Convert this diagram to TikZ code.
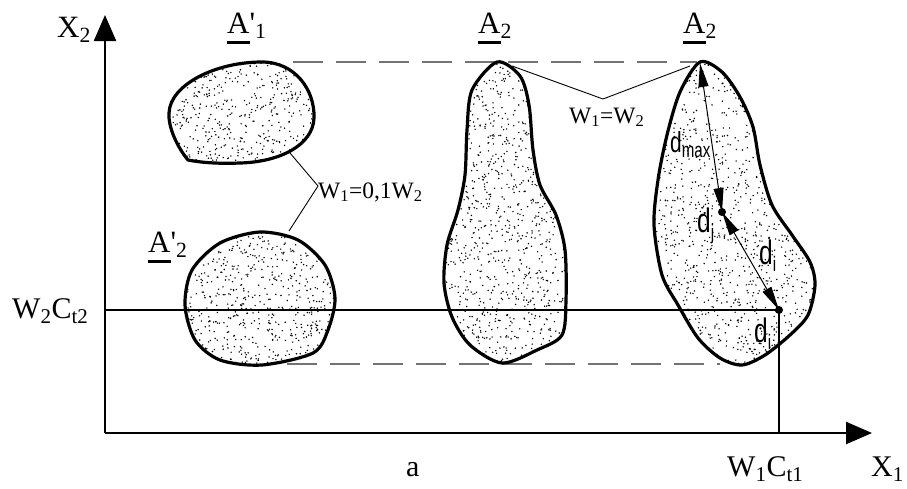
\documentclass[tikz,border=0pt]{standalone}
\usepackage{fontspec}
\usepackage{graphicx}
\setmainfont{Liberation Serif}
\newfontfamily\dfont{Liberation Sans}
\usetikzlibrary{arrows.meta}
\newcommand\ulA[1]{\setbox0\hbox{#1}\rlap{\rule[-11pt]{\wd0}{3pt}}\box0}
\newcommand\stippledblob[6]{%
  \begin{scope}
    \clip #1;
    \foreach \k in {1,...,#6}{%
      \pgfmathsetmacro\rx{#2+rnd*#4}%
      \pgfmathsetmacro\ry{#3+rnd*#5}%
      \fill (\rx,\ry) circle[radius=0.8];}
  \end{scope}
  \draw[blob] #1;
}
\newcommand\dlab[2]{\scalebox{0.72}[1]{\dfont\fontsize{34}{34}\selectfont d\raisebox{-7pt}{\fontsize{21}{21}\selectfont #2}}}
\begin{document}
\begin{tikzpicture}[x=1pt,y=-1pt,
  blob/.style={line width=3.2pt, line join=round},
  axis/.style={line width=2.4pt, -{Triangle[length=26pt,width=22pt]}},
  guide/.style={line width=1.3pt, draw=black!55, dash pattern=on 30pt off 13pt},
  thinline/.style={line width=0.9pt},
  dline/.style={line width=1pt, {Triangle[length=24pt,width=10pt]}-{Triangle[length=24pt,width=10pt]}},
  big/.style={font=\fontsize{31}{34}\selectfont, inner sep=0pt, anchor=base west},
  mid/.style={font=\fontsize{30}{33}\selectfont, inner sep=0pt, anchor=base west},
  small/.style={font=\fontsize{23.5}{26}\selectfont, inner sep=0pt, anchor=base west},
  dtext/.style={inner sep=0pt, anchor=base west}]
\useasboundingbox (0,0) rectangle (907,488);
\pgfmathsetseed{12345}

% coordinates
\coordinate (o) at (105,433);
\coordinate (ytip) at (105,15);
\coordinate (xtip) at (872,433);
\coordinate (yl) at (105,310);
\coordinate (top2) at (700,63);
\coordinate (dj) at (722,212);
\coordinate (di) at (779,310);
\coordinate (xb) at (779,433);
\coordinate (gt1) at (293,62);
\coordinate (gt2) at (697,62);
\coordinate (gb1) at (287,364);
\coordinate (gb2) at (720,364);

% dashed guides
\draw[guide] (gt1) -- (gt2);
\draw[guide] (gb1) -- (gb2);

% blobs
\stippledblob{(188,160) .. controls (178,148) and (168,128) .. (169,113) .. controls (170,85) and (215,62) .. (262,62) .. controls (295,62) and (315,90) .. (314,118) .. controls (313,145) and (280,162) .. (240,163) .. controls (215,164) and (198,162) .. (188,160) -- cycle}{165}{58}{152}{108}{520}
\stippledblob{plot[smooth cycle] coordinates {(260,232) (298,240) (325,265) (335,298) (328,330) (313,353) (262,365) (220,360) (195,340) (185,305) (192,270) (220,243)}}{182}{228}{156}{140}{680}
\stippledblob{plot[smooth cycle] coordinates {(497,62) (520,76) (529,105) (533,150) (540,185) (556,215) (565,250) (566,300) (562,335) (537,350) (502,363) (470,345) (452,317) (444,283) (447,245) (458,210) (465,175) (467,130) (472,90)}}{440}{58}{130}{310}{1120}
\stippledblob{plot[smooth cycle] coordinates {(700,62) (722,72) (740,97) (753,127) (760,165) (772,205) (792,235) (810,262) (815,285) (808,315) (790,335) (765,355) (742,365) (720,358) (698,338) (678,305) (662,275) (654,225) (658,180) (667,135) (680,92)}}{650}{58}{170}{312}{1420}

% axes and reference lines
\draw[axis] (o) -- (ytip);
\draw[axis] (o) -- (xtip);
\draw[line width=2.2pt] (yl) -- (di);
\draw[line width=2pt] (di) -- (xb);

% d arrows in right blob
\draw[dline] (top2) -- (dj);
\draw[dline] (dj) -- (di);
\fill (dj) circle[radius=4];
\fill (di) circle[radius=4];

% weight connectors
\coordinate (c1a) at (290,153);
\coordinate (v1) at (318,186);
\coordinate (c1b) at (289,231);
\draw[thinline] (c1a) -- (v1) -- (c1b);
\coordinate (c2a) at (512,66);
\coordinate (v2) at (603,99);
\coordinate (c2b) at (690,66);
\draw[thinline] (c2a) -- (v2) -- (c2b);

% labels
\node[big] (lX2) at (57,37) {X\textsubscript{2}};
\node[big] (lA1) at (227,33) {\ulA{A}\textquotesingle\textsubscript{1}};
\node[big] (lA2p) at (148,252) {\ulA{A}\textquotesingle\textsubscript{2}};
\node[big] (lA2m) at (478,33) {\ulA{A}\textsubscript{2}};
\node[big] (lA2r) at (683,33) {\ulA{A}\textsubscript{2}};
\node[font=\fontsize{30}{33}\selectfont, inner sep=0pt, anchor=base west] (lW2) at (12,318) {W\textsubscript{2}C\textsubscript{t2}};
\node[mid] (lW1) at (727,476) {W\textsubscript{1}C\textsubscript{t1}};
\node[mid] (lX1) at (871,476) {X\textsubscript{1}};
\node[mid] (la) at (406,476) {a};
\node[small] (lw01) at (318,198) {W\textsubscript{1}=0,1W\textsubscript{2}};
\node[small] (lw12) at (569,123) {W\textsubscript{1}=W\textsubscript{2}};
\node[dtext] (ldmax) at (670,152) {\scalebox{0.72}[1]{\dfont\fontsize{29}{29}\selectfont d\raisebox{-5pt}{\fontsize{21}{21}\selectfont max}}};
\node[dtext] (ldj) at (697,232) {\dlab{d}{j}};
\node[dtext] (ldi) at (759,264) {\dlab{d}{i}};
\node[dtext] (ldl) at (754,342) {\dlab{d}{i}};
\end{tikzpicture}
\end{document}
